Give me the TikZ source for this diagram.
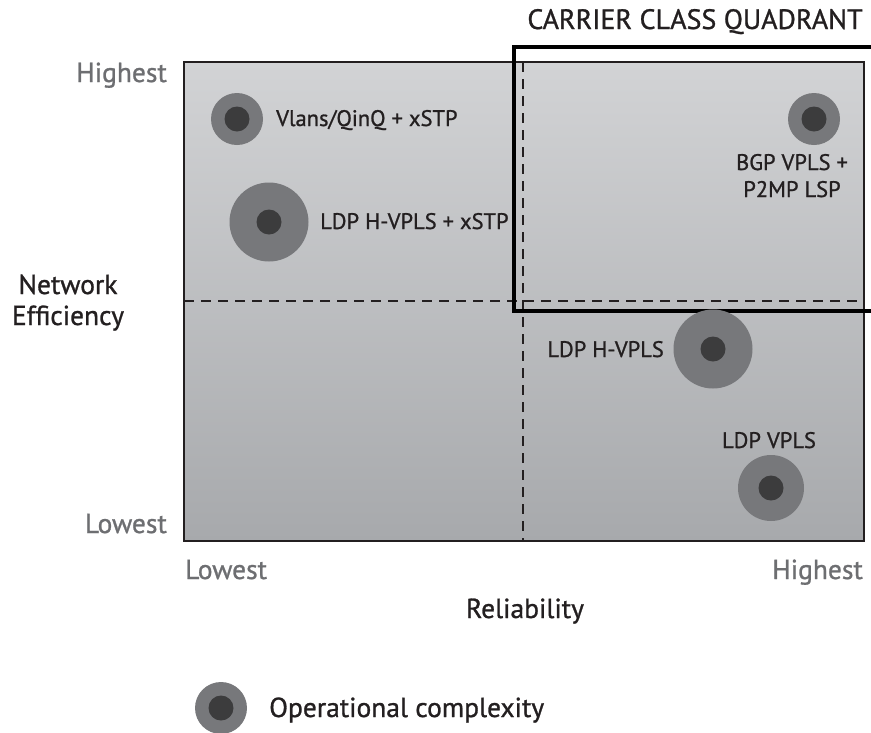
\documentclass[tikz,border=0pt]{standalone}
\usepackage{fontspec}
\setmainfont{PT Sans}[FakeBold=1.0]
\definecolor{ink}{HTML}{231F20}
\definecolor{axisgray}{HTML}{6D6E71}
\definecolor{ringgray}{HTML}{77787B}
\definecolor{coregray}{HTML}{3C3C3D}
\definecolor{paneltop}{HTML}{D2D3D5}
\definecolor{panelbot}{HTML}{A7A9AC}
\tikzset{
  lbl/.style={font=\fontsize{22.5}{26}\selectfont, text=ink, inner sep=0pt},
  biglbl/.style={font=\fontsize{27.5}{31}\selectfont, text=ink, inner sep=0pt},
  axislbl/.style={font=\fontsize{27.5}{31}\selectfont, text=axisgray, inner sep=0pt},
  ring/.style={circle, fill=ringgray, draw=none, minimum size=#1, inner sep=0pt},
  core/.style={circle, fill=coregray, draw=none, minimum size=25pt, inner sep=0pt},
  divider/.style={ink, line width=2pt, dash pattern=on 10pt off 7pt},
}
\begin{document}
\begin{tikzpicture}[x=1pt, y=-1pt]
\useasboundingbox (0,0) rectangle (871,732);
% panel with vertical gradient
\shade[top color=paneltop, bottom color=panelbot] (184,62) rectangle (864,541);
\draw[ink, line width=1.5pt] (184,62) rectangle (864,541);
% quadrant dividers
\coordinate (hL) at (184,301);
\coordinate (hR) at (864,301);
\coordinate (vT) at (523,62);
\coordinate (vB) at (523,541);
\draw[divider] (hL) -- (hR);
\draw[divider] (vT) -- (vB);
% carrier class quadrant frame
\coordinate (cTR) at (871,47);
\coordinate (cTL) at (514,47);
\coordinate (cBL) at (514,311);
\coordinate (cBR) at (871,311);
\draw[black, line width=4pt] (cTR) -- (cTL) -- (cBL) -- (cBR);
\node[biglbl, font=\fontsize{28}{32}\selectfont, anchor=base] (title) at (695,29) {CARRIER CLASS QUADRANT};
% technologies
\node[ring=52pt] (vlan) at (237,119) {};
\node[core] at (vlan) {};
\node[lbl, anchor=base west] (vlanL) at (276,126) {Vlans/QinQ + xSTP};

\node[ring=79pt] (hvx) at (269,222) {};
\node[core] at (hvx) {};
\node[lbl, anchor=base west] (hvxL) at (320,229) {LDP H-VPLS + xSTP};

\node[ring=52pt] (bgp) at (814,119) {};
\node[core] at (bgp) {};
\node[lbl, anchor=base] (bgpL1) at (792,170) {BGP VPLS +};
\node[lbl, anchor=base] (bgpL2) at (792,197) {P2MP LSP};

\node[ring=79pt] (hv) at (713,349) {};
\node[core] at (hv) {};
\node[lbl, anchor=base east] (hvL) at (664,357) {LDP H-VPLS};

\node[ring=66pt] (vp) at (771,488) {};
\node[core] at (vp) {};
\node[lbl, anchor=base] (vpL) at (769,448) {LDP VPLS};
% axes
\node[axislbl, anchor=base east] (yHi) at (167,82) {Highest};
\node[axislbl, anchor=base east] (yLo) at (167,533) {Lowest};
\node[biglbl, anchor=base] (yName1) at (68,294) {Network};
\node[biglbl, anchor=base] (yName2) at (68,325) {Efficiency};
\node[axislbl, anchor=base west] (xLo) at (185,579) {Lowest};
\node[axislbl, anchor=base east] (xHi) at (863,579) {Highest};
\node[biglbl, anchor=base] (xName) at (525,618) {Reliability};
% legend
\node[ring=52pt] (leg) at (221,708) {};
\node[core] at (leg) {};
\node[biglbl, anchor=base west] (legL) at (269,717) {Operational complexity};
\end{tikzpicture}
\end{document}
